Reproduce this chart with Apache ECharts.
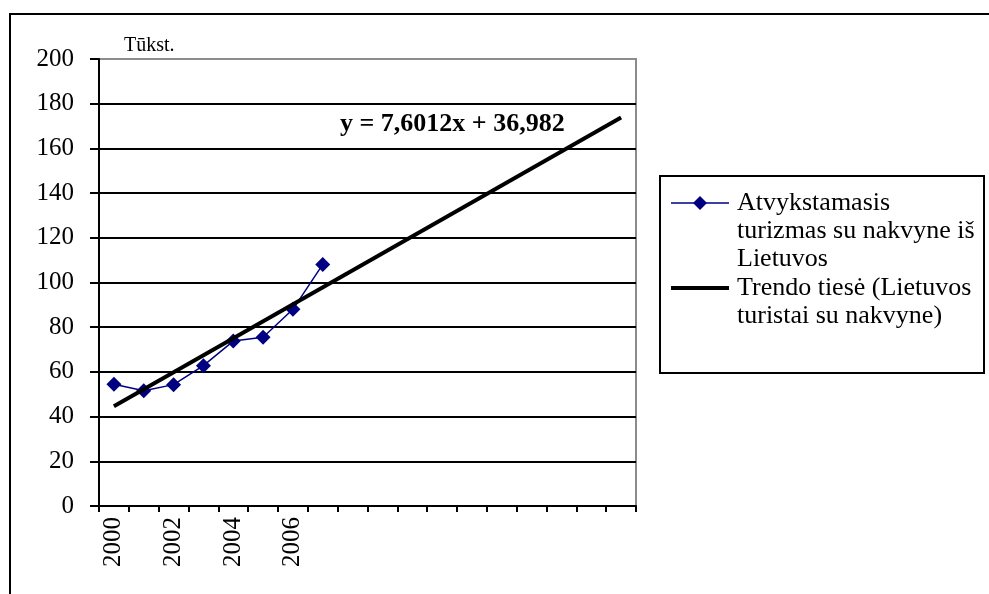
<!DOCTYPE html>
<html>
<head>
<meta charset="utf-8">
<script src="https://cdn.jsdelivr.net/npm/echarts@6/dist/echarts.min.js"></script>
<style>html,body{margin:0;padding:0;background:#fff;}#c{width:989px;height:594px;}</style>
</head>
<body>
<div id="c"></div>
<script>
// Categories (years; trailing blanks are the forecast range of the trend line)
const categories = ['2000','2001','2002','2003','2004','2005','2006','2007','','','','','','','','','',''];
// Observed values (thousands)
const tourismValues = [54.5, 51.6, 54.3, 62.8, 73.8, 75.5, 88.0, 108.1];
// Trend line endpoints (first and last category)
const trendStart = 44.6;
const trendEnd = 173.8;
const yTicks = [0, 20, 40, 60, 80, 100, 120, 140, 160, 180, 200];
const seriesName = 'Atvykstamasis turizmas su nakvyne iš Lietuvos';
const trendName = 'Trendo tiesė (Lietuvos turistai su nakvyne)';
const legendText1 = 'Atvykstamasis\nturizmas su nakvyne iš\nLietuvos';
const legendText2 = 'Trendo tiesė (Lietuvos\nturistai su nakvyne)';
const equationText = 'y = 7,6012x + 36,982';
const unitText = 'Tūkst.';

const serif = '"Liberation Serif", "Times New Roman", serif';
const mainData = categories.map((c, i) => i < tourismValues.length ? tourismValues[i] : null);
const trendData = categories.map((c, i) => i === 0 ? trendStart : (i === categories.length - 1 ? trendEnd : null));
const splitColors = yTicks.map((v, i) => i === yTicks.length - 1 ? '#8c8c8c' : '#000');

const chart = echarts.init(document.getElementById('c'), null, {renderer: 'canvas'});
chart.setOption({
  animation: false,
  backgroundColor: '#fff',
  grid: {left: 99, top: 59, right: 353, bottom: 88, show: true, borderColor: '#8c8c8c', borderWidth: 2, containLabel: false},
  xAxis: {
    type: 'category',
    data: categories,
    boundaryGap: true,
    axisLine: {lineStyle: {color: '#000', width: 2}},
    axisTick: {show: true, interval: 0, length: 6, lineStyle: {color: '#000', width: 2}},
    axisLabel: {interval: 1, rotate: 90, margin: 11, fontFamily: serif, fontSize: 25, color: '#000'},
    splitLine: {show: false}
  },
  yAxis: {
    type: 'value',
    min: yTicks[0],
    max: yTicks[yTicks.length - 1],
    interval: 20,
    name: unitText,
    nameLocation: 'end',
    nameGap: 3,
    nameTextStyle: {fontFamily: serif, fontSize: 20, color: '#000', align: 'left', verticalAlign: 'bottom', padding: [0, 0, 0, 25]},
    axisLine: {show: true, lineStyle: {color: '#000', width: 2}},
    axisTick: {show: true, length: 9, lineStyle: {color: '#000', width: 2}},
    axisLabel: {margin: 25, fontFamily: serif, fontSize: 25, color: '#000'},
    splitLine: {show: true, lineStyle: {color: splitColors, width: 2}}
  },
  series: [
    {
      name: seriesName,
      type: 'line',
      data: mainData,
      symbol: 'diamond',
      symbolSize: 15,
      itemStyle: {color: '#000080'},
      lineStyle: {color: '#000080', width: 1.5},
      z: 3
    },
    {
      name: trendName,
      type: 'line',
      data: trendData,
      connectNulls: true,
      symbol: 'none',
      lineStyle: {color: '#000', width: 4},
      z: 4
    }
  ],
  graphic: [
    {type: 'rect', shape: {x: 10, y: 14, width: 1000, height: 600}, style: {fill: 'none', stroke: '#000', lineWidth: 2}, silent: true, z: 10},
    {type: 'text', x: 340, y: 111, style: {text: equationText, font: 'bold 26px ' + serif, fill: '#000'}, z: 10},
    {type: 'rect', shape: {x: 660, y: 176, width: 324, height: 197}, style: {fill: '#fff', stroke: '#000', lineWidth: 2}, z: 10},
    {type: 'line', shape: {x1: 671, y1: 203, x2: 729, y2: 203}, style: {stroke: '#000080', lineWidth: 1.5}, z: 11},
    {type: 'polygon', shape: {points: [[700, 196], [707, 203], [700, 210], [693, 203]]}, style: {fill: '#000080'}, z: 11},
    {type: 'text', x: 737, y: 189, style: {text: legendText1, font: '26px ' + serif, lineHeight: 28, fill: '#000'}, z: 11},
    {type: 'line', shape: {x1: 671, y1: 288, x2: 729, y2: 288}, style: {stroke: '#000', lineWidth: 4}, z: 11},
    {type: 'text', x: 737, y: 274, style: {text: legendText2, font: '26px ' + serif, lineHeight: 28, fill: '#000'}, z: 11}
  ]
});
</script>
</body>
</html>
